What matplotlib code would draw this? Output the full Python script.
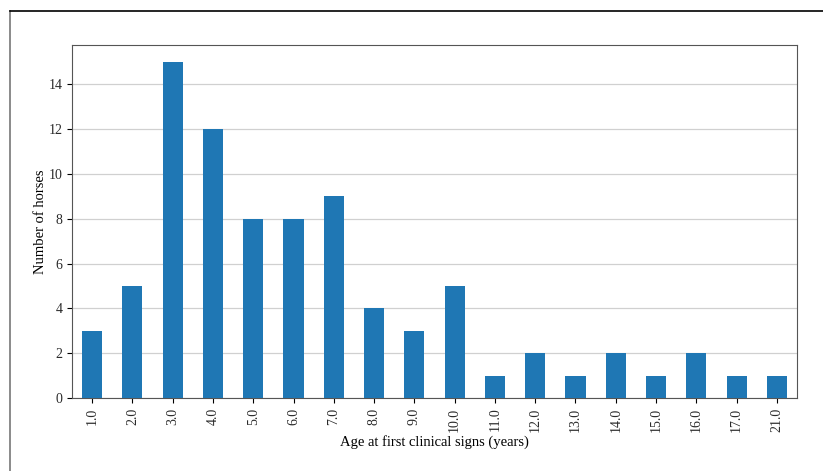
import matplotlib
matplotlib.use("Agg")
import matplotlib.pyplot as plt
from matplotlib.lines import Line2D

# horses per age at first clinical signs
ages = ["1.0", "2.0", "3.0", "4.0", "5.0", "6.0", "7.0", "8.0", "9.0", "10.0",
        "11.0", "12.0", "13.0", "14.0", "15.0", "16.0", "17.0", "21.0"]
counts = [3, 5, 15, 12, 8, 8, 9, 4, 3, 5, 1, 2, 1, 2, 1, 2, 1, 1]

plt.rcParams["font.family"] = ["Liberation Serif", "DejaVu Serif"]
plt.rcParams["text.color"] = "#2a2a2a"
plt.rcParams["xtick.labelcolor"] = "#2a2a2a"
plt.rcParams["ytick.labelcolor"] = "#2a2a2a"

fig = plt.figure(figsize=(8.23, 4.71), dpi=100)
ax = fig.add_axes([72 / 823, 1 - 398 / 471, 725 / 823, 353 / 471])

x = list(range(len(ages)))
ax.bar(x, counts, width=0.5, color="#1f77b4", zorder=3)
ax.set_xlim(-0.5, len(ages) - 0.5)
ax.set_ylim(0, max(counts) * 1.05)
ax.set_xticks(x)
ax.set_xticklabels(ages, rotation=90, fontsize=10)
ax.set_yticks([0, 2, 4, 6, 8, 10, 12, 14])
ax.tick_params(axis="y", labelsize=10)
ax.yaxis.grid(True, color="#d0d0d0", lw=0.9, zorder=0)
ax.set_axisbelow(True)
for s in ax.spines.values():
    s.set_color("#555555")
ax.set_xlabel("Age at first clinical signs (years)", fontsize=10.5, labelpad=2)
ax.set_ylabel("Number of horses", fontsize=10.5, labelpad=1)

# outer frame of the figure
fig.add_artist(Line2D([10 / 823, 10 / 823], [0, 1 - 11 / 471], color="#777777", lw=1.2))
fig.add_artist(Line2D([10 / 823, 1], [1 - 11 / 471, 1 - 11 / 471], color="black", lw=1.2))

fig.savefig("out.png", dpi=100)
